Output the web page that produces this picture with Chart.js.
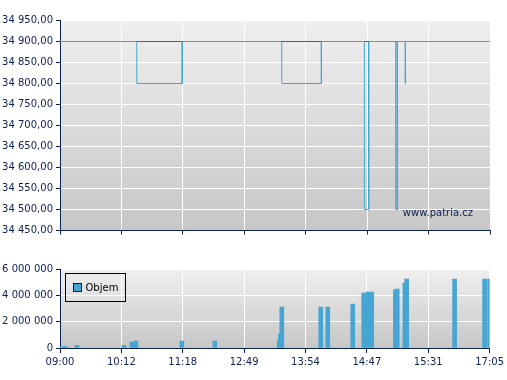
<!DOCTYPE html>
<html lang="cs">
<head>
<meta charset="utf-8">
<title>Graf</title>
<script src="https://cdn.jsdelivr.net/npm/chart.js@4.4.1/dist/chart.umd.min.js"></script>
<style>
  html, body { margin: 0; padding: 0; background: #fff; }
  #wrap       { position: relative; width: 507px; height: 380px; }
  #price-box  { position: absolute; left: 0; top: 0;     width: 507px; height: 242px; }
  #volume-box { position: absolute; left: 0; top: 250px; width: 507px; height: 130px; }
</style>
</head>
<body>
<div id="wrap">
  <div id="price-box"><canvas id="price-chart"></canvas></div>
  <div id="volume-box"><canvas id="volume-chart"></canvas></div>
</div>
<script>
"use strict";

// ── Data ──────────────────────────────────────────────────────────────────
// osa x = pořadí obchodů, popisky jsou časy
const TIME_LABELS = ["09:00", "10:12", "11:18", "12:49", "13:54", "14:47", "15:31", "17:05"];

const PRICE_MIN  = 34450;
const PRICE_MAX  = 34950;
const PRICE_STEP = 50;
const REF_PRICE  = 34900;

// svíčky: od, do (pozice na ose), horní a spodní cena
const candleFrom = [1.25, 3.61, 4.955, 5.465, 5.621];
const candleTo   = [1.99, 4.255, 5.025, 5.49, 5.621];
const candleHigh = [34900, 34900, 34900, 34900, 34900];
const candleLow  = [34800, 34800, 34500, 34500, 34800];
const candleRed  = [true, true, true, false, false];

const VOLUME_MAX  = 6000000;
const VOLUME_STEP = 2000000;

const volumeX = [0.04, 0.09, 0.277, 1.042, 1.172, 1.237, 1.986, 2.523,
                 3.57, 3.59, 3.614, 4.249, 4.363, 4.770, 4.949, 5.014, 5.079,
                 5.465, 5.495, 5.62, 5.649, 6.43, 6.919, 7.0];
const volumeY = [100000, 100000, 200000, 200000, 450000, 520000, 520000, 520000,
                 520000, 1060000, 3100000, 3100000, 3100000, 3340000, 4180000, 4250000, 4250000,
                 4400000, 4480000, 4940000, 5240000, 5240000, 5240000, 5240000];

// ── Styl ──────────────────────────────────────────────────────────────────
const NAVY = "#0b2152";
const BLUE = "#46a5d2";
const RED  = "#cc2f2a";
const FONT = { family: "'DejaVu Sans', Verdana, sans-serif", size: 10 };

function groupThousands(str) {
  return str.replace(/\B(?=(\d{3})+(?!\d))/g, " ");
}
function fmtPrice(v) {
  const parts = Number(v).toFixed(2).split(".");
  return groupThousands(parts[0]) + "," + parts[1];
}
function fmtVolume(v) {
  return groupThousands(String(Math.round(v)));
}

// pozadí grafu — svislý přechod
const bgPlugin = {
  id: "bgGradient",
  beforeDraw(chart) {
    const { ctx, chartArea: a } = chart;
    const g = ctx.createLinearGradient(0, a.top, 0, a.bottom);
    g.addColorStop(0, "#efefef");
    g.addColorStop(1, "#c7c7c7");
    ctx.save();
    ctx.fillStyle = g;
    ctx.fillRect(a.left, a.top, a.right - a.left, a.bottom - a.top);
    ctx.restore();
  },
};

function xScale(showLabels, tickLen, axisHeight) {
  return {
    type: "linear",
    min: 0,
    max: TIME_LABELS.length - 1,
    offset: false,
    grid: { color: "#ffffff", lineWidth: 1, tickColor: NAVY, tickLength: tickLen, offset: false },
    border: { color: NAVY, width: 1 },
    ticks: {
      display: showLabels,
      stepSize: 1,
      autoSkip: false,
      maxRotation: 0,
      padding: 3,
      color: NAVY,
      font: FONT,
      callback: v => TIME_LABELS[v] ?? "",
    },
    afterFit: (s) => { s.height = axisHeight; },
  };
}

// ── Cenový graf ───────────────────────────────────────────────────────────
const boxPts = [];
const redPts = [];
candleFrom.forEach((x0, i) => {
  const x1 = candleTo[i];
  boxPts.push(
    { x: x0, y: candleHigh[i] }, { x: x1, y: candleHigh[i] },
    { x: x1, y: candleLow[i] },  { x: x0, y: candleLow[i] },
    { x: x0, y: candleHigh[i] }, { x: x0, y: null }
  );
  if (candleRed[i]) {
    redPts.push({ x: x0, y: candleHigh[i] }, { x: x1, y: candleHigh[i] }, { x: x1, y: null });
  }
});

const watermark = {
  id: "watermark",
  afterDraw(chart) {
    const { ctx, chartArea: a } = chart;
    ctx.save();
    ctx.font = `${FONT.size}px ${FONT.family}`;
    ctx.fillStyle = NAVY;
    ctx.textAlign = "right";
    ctx.textBaseline = "middle";
    ctx.fillText("www.patria.cz", a.right - 17, a.bottom - 17);
    ctx.restore();
  },
};

new Chart(document.getElementById("price-chart"), {
  type: "line",
  data: {
    datasets: [
      { data: redPts, borderColor: RED, borderWidth: 1, order: 0 },
      { data: boxPts, borderColor: BLUE, borderWidth: 1, order: 1 },
      {
        data: [{ x: 0, y: REF_PRICE }, { x: TIME_LABELS.length - 1, y: REF_PRICE }],
        borderColor: BLUE, borderWidth: 1, order: 2,
      },
    ],
  },
  options: {
    responsive: true,
    maintainAspectRatio: false,
    animation: false,
    spanGaps: false,
    elements: { point: { radius: 0 }, line: { tension: 0, fill: false } },
    layout: { padding: { left: 0, right: 17, top: 20.5, bottom: 0 } },
    plugins: { legend: { display: false }, tooltip: { enabled: false } },
    scales: {
      x: xScale(false, 4, 11.5),
      y: {
        min: PRICE_MIN,
        max: PRICE_MAX,
        grid: { color: "#ffffff", lineWidth: 1, tickColor: NAVY, tickLength: 4 },
        border: { color: NAVY, width: 1 },
        ticks: { stepSize: PRICE_STEP, padding: 3, color: NAVY, font: FONT, callback: fmtPrice },
        afterFit: (s) => { s.width = 60; },
      },
    },
  },
  plugins: [bgPlugin, watermark],
});

// ── Objem ─────────────────────────────────────────────────────────────────
const legendBox = {
  id: "legendBox",
  afterDraw(chart) {
    const { ctx, chartArea: a } = chart;
    const x = Math.round(a.left) + 5.5;
    const y = Math.round(a.top) + 4.5;
    ctx.save();
    ctx.strokeStyle = "#000";
    ctx.lineWidth = 1;
    ctx.strokeRect(x, y, 60, 28);
    ctx.fillStyle = BLUE;
    ctx.fillRect(x + 8, y + 10, 8, 8);
    ctx.strokeStyle = "#1a1a1a";
    ctx.strokeRect(x + 8, y + 10, 8, 8);
    ctx.font = `${FONT.size}px ${FONT.family}`;
    ctx.fillStyle = "#000";
    ctx.textBaseline = "middle";
    ctx.fillText("Objem", x + 20, y + 14.5);
    ctx.restore();
  },
};

new Chart(document.getElementById("volume-chart"), {
  type: "bar",
  data: {
    datasets: [{
      label: "Objem",
      data: volumeX.map((x, i) => ({ x, y: volumeY[i] })),
      backgroundColor: BLUE,
      borderWidth: 0,
      barThickness: 4,
    }],
  },
  options: {
    responsive: true,
    maintainAspectRatio: false,
    animation: false,
    layout: { padding: { left: 0, right: 17, top: 19, bottom: 0 } },
    plugins: { legend: { display: false }, tooltip: { enabled: false } },
    scales: {
      x: xScale(true, 5, 32),
      y: {
        min: 0,
        max: VOLUME_MAX,
        grid: { color: "#ffffff", lineWidth: 1, tickColor: NAVY, tickLength: 4 },
        border: { color: NAVY, width: 1 },
        ticks: { stepSize: VOLUME_STEP, padding: 3, color: NAVY, font: FONT, callback: fmtVolume },
        afterFit: (s) => { s.width = 60; },
      },
    },
  },
  plugins: [bgPlugin, legendBox],
});
</script>
</body>
</html>
